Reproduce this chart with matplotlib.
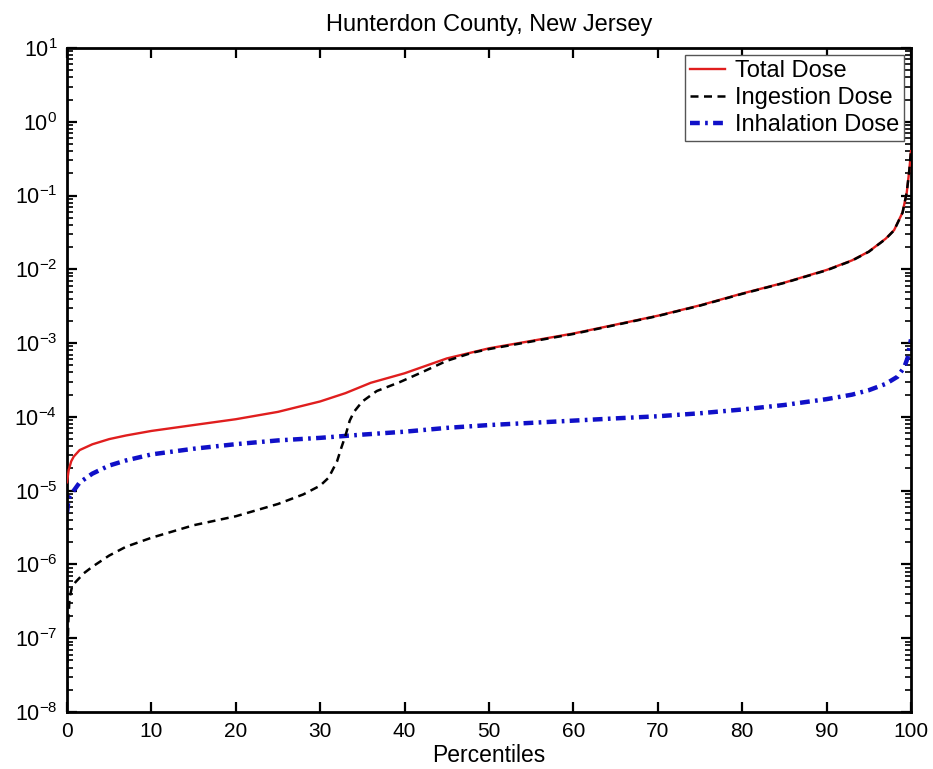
import matplotlib
matplotlib.use("Agg")
import matplotlib.pyplot as plt
from matplotlib.ticker import LogLocator, NullFormatter, LogFormatterMathtext

plt.rcParams['font.family'] = ['Liberation Sans', 'DejaVu Sans']
plt.rcParams['mathtext.fontset'] = 'custom'
plt.rcParams['mathtext.rm'] = 'Liberation Sans'
plt.rcParams['mathtext.it'] = 'Liberation Sans:italic'
plt.rcParams['mathtext.bf'] = 'Liberation Sans:bold'

title = "Hunterdon County, New Jersey"
x_label = "Percentiles"
x_ticks = [0, 10, 20, 30, 40, 50, 60, 70, 80, 90, 100]

# Total dose by percentile
pct_total = [0, 0.2, 0.5, 0.8, 1.5, 3, 5, 7, 10, 15, 20, 25, 30, 33, 36, 40, 45, 50,
             55, 60, 65, 70, 75, 80, 85, 90, 93, 95, 97, 98, 99, 99.5, 99.8, 100]
total_dose = [1.3e-5, 1.9e-5, 2.5e-5, 2.9e-5, 3.55e-5, 4.25e-5, 5.0e-5, 5.6e-5, 6.45e-5,
              7.75e-5, 9.3e-5, 1.17e-4, 1.62e-4, 2.1e-4, 2.9e-4, 3.9e-4, 6.2e-4, 8.5e-4,
              1.07e-3, 1.35e-3, 1.78e-3, 2.35e-3, 3.25e-3, 4.7e-3, 6.6e-3, 9.8e-3,
              1.32e-2, 1.74e-2, 2.6e-2, 3.4e-2, 5.9e-2, 0.11, 0.22, 0.4]

# Ingestion dose by percentile
pct_ingest = [0, 0.15, 0.3, 0.6, 1, 2, 3, 5, 7, 10, 15, 20, 25, 28, 30, 31, 32, 32.5, 33,
              33.5, 34, 35, 36.7, 39.4, 42, 45, 48, 50, 55, 60, 65, 70, 75, 80, 85, 90,
              93, 95, 97, 98, 99, 99.5, 99.8, 100]
ingest_dose = [2e-8, 1.6e-7, 3.5e-7, 5e-7, 5.75e-7, 7.6e-7, 9.3e-7, 1.32e-6, 1.74e-6,
               2.3e-6, 3.4e-6, 4.5e-6, 6.6e-6, 8.9e-6, 1.17e-5, 1.5e-5, 2.5e-5, 3.8e-5,
               5.6e-5, 8.9e-5, 1.17e-4, 1.62e-4, 2.24e-4, 2.95e-4, 4.0e-4, 5.75e-4,
               7.4e-4, 8.3e-4, 1.05e-3, 1.33e-3, 1.76e-3, 2.33e-3, 3.22e-3, 4.65e-3,
               6.55e-3, 9.7e-3, 1.31e-2, 1.73e-2, 2.58e-2, 3.38e-2, 5.85e-2, 0.11, 0.22,
               0.4]

# Inhalation dose by percentile
pct_inhal = [0, 0.2, 0.6, 1.5, 3, 5, 7, 10, 15, 20, 25, 30, 35, 40, 45, 50, 55, 60, 65,
             70, 75, 80, 85, 90, 93, 95, 97, 98.4, 99.2, 99.6, 99.8, 100]
inhal_dose = [5e-6, 7.9e-6, 9.3e-6, 1.29e-5, 1.7e-5, 2.19e-5, 2.57e-5, 3.1e-5, 3.7e-5,
              4.27e-5, 4.8e-5, 5.2e-5, 5.75e-5, 6.3e-5, 7.1e-5, 7.75e-5, 8.3e-5, 8.9e-5,
              9.55e-5, 1.02e-4, 1.12e-4, 1.26e-4, 1.45e-4, 1.74e-4, 2.0e-4, 2.3e-4,
              2.8e-4, 3.5e-4, 4.7e-4, 6.3e-4, 8.7e-4, 1.12e-3]

fig = plt.figure(figsize=(9.33, 7.69), dpi=100)
ax = fig.add_axes([0.0718, 0.0741, 0.9046, 0.8635])

ax.plot(pct_total, total_dose, color='#e01e1e', lw=1.7, label='Total Dose', zorder=3)
ax.plot(pct_ingest, ingest_dose, color='black', lw=1.8, ls=(0, (3.2, 2.2)),
        label='Ingestion Dose', zorder=4)
ax.plot(pct_inhal, inhal_dose, color='#1010c8', lw=3.2, ls=(0, (2.2, 1.2, 0.6, 1.2)),
        label='Inhalation Dose', zorder=2)

ax.set_yscale('log')
ax.set_xlim(0, 100)
ax.set_ylim(1e-8, 1e1)
ax.set_xticks(x_ticks)
ax.set_xticklabels([str(t) for t in x_ticks])
ax.yaxis.set_major_locator(LogLocator(base=10, numticks=20))
ax.yaxis.set_major_formatter(LogFormatterMathtext())
ax.yaxis.set_minor_locator(LogLocator(base=10, subs=range(2, 10), numticks=100))
ax.yaxis.set_minor_formatter(NullFormatter())

ax.tick_params(axis='both', which='major', direction='in', length=7, width=1.6,
               top=True, right=True, pad=7, colors='black')
ax.tick_params(axis='x', which='major', labelsize=15)
ax.tick_params(axis='y', which='major', labelsize=15.5)
ax.tick_params(axis='y', which='minor', direction='in', length=4, width=1.2,
               left=True, right=True)
for s in ax.spines.values():
    s.set_linewidth(2.0)

ax.set_title(title, fontsize=17, pad=12)
ax.set_xlabel(x_label, fontsize=16.5, labelpad=2)

leg = ax.legend(loc='upper right', fontsize=17, frameon=True, fancybox=False,
                edgecolor='#555555', framealpha=1, borderpad=0.2, labelspacing=0.22,
                handlelength=1.5, handletextpad=0.4, borderaxespad=0.3)
leg.get_frame().set_linewidth(1.0)

fig.savefig('out.png', dpi=100)
